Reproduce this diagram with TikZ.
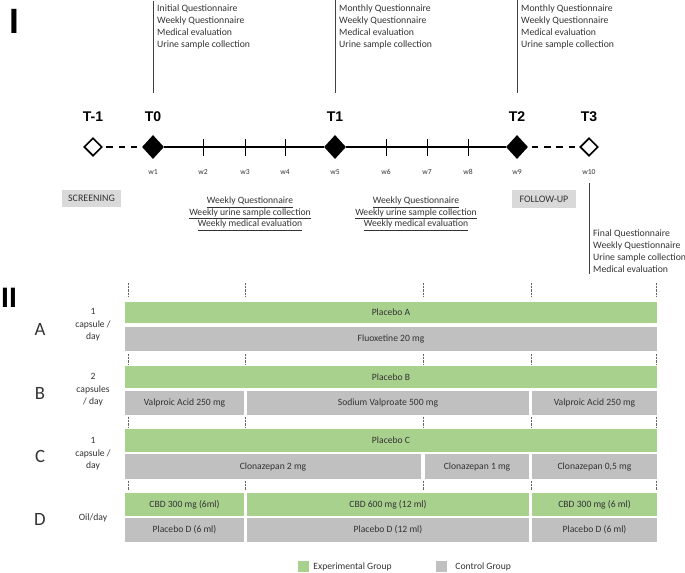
\documentclass[tikz,border=0pt]{standalone}
\usepackage{fontspec}
\setmainfont{Carlito}
\newfontfamily\headfont{Liberation Sans}
\usetikzlibrary{shapes.geometric,positioning}
\definecolor{expgreen}{HTML}{A9D18E}
\definecolor{ctrlgray}{HTML}{C0C0C0}
\definecolor{boxgray}{HTML}{D9D9D9}
\definecolor{txtgray}{HTML}{333333}
% name, style, x1, x2, y1, y2, text
\newcommand{\dosebar}[7]{%
  \node[#2, minimum width={(#4-#3)*0.03cm}, minimum height={(#6-#5)*0.03cm}]
    (#1) at ({(#3+#4)/2},{(#5+#6)/2}) {#7};}

\begin{document}
\begin{tikzpicture}[x=0.03cm, y=-0.03cm,
    fulld/.style={diamond, fill=black, inner sep=0pt, minimum width=0.66cm, minimum height=0.72cm},
    opend/.style={diamond, draw=black, line width=1.4pt, fill=white, inner sep=0pt, minimum width=0.54cm, minimum height=0.54cm},
    tline/.style={line width=1.6pt},
    tick/.style={line width=0.6pt},
    vline/.style={draw=black!75, line width=0.7pt},
    tlab/.style={font=\headfont\bfseries\fontsize{12}{12}\selectfont},
    wlab/.style={font=\fontsize{6.5}{6.5}\selectfont, text=txtgray},
    note/.style={align=left, inner sep=0pt, text=txtgray, font=\fontsize{8.3}{10}\selectfont},
    weekly/.style={align=center, inner sep=0pt, text=txtgray, font=\fontsize{8.2}{9.8}\selectfont},
    phase/.style={fill=boxgray, text=txtgray, inner sep=0pt, font=\fontsize{8.5}{8.5}\selectfont},
    grnbar/.style={fill=expgreen, inner sep=0pt, text=txtgray, font=\fontsize{8.2}{9}\selectfont},
    grybar/.style={fill=ctrlgray, inner sep=0pt, text=txtgray, font=\fontsize{8.2}{9}\selectfont},
    grp/.style={text=txtgray, font=\fontsize{16}{16}\selectfont},
    dose/.style={align=center, inner sep=0pt, text=txtgray, font=\fontsize{8.2}{10.6}\selectfont},
    weekmark/.style={draw=black!60, line width=0.4pt, dash pattern=on 0.6pt off 0.6pt},
    legtxt/.style={text=txtgray, inner sep=0pt, font=\fontsize{8.2}{8.2}\selectfont}]
\useasboundingbox (0,0) rectangle (685,573);

% ---- I : timeline
\node[font=\headfont\bfseries\fontsize{30}{30}\selectfont] (partI) at (14,21) {I};
\node[opend] (Tm1) at (93,147) {};
\node[fulld] (T0) at (153,147) {};
\node[fulld] (T1) at (335,147) {};
\node[fulld] (T2) at (517,147) {};
\node[opend] (T3) at (589,147) {};
\draw[tline] (T0) -- (T1) -- (T2);
\draw[tline, dash pattern=on 5.5pt off 5pt, dash phase=-3pt] (Tm1) -- (T0);
\draw[tline, dash pattern=on 5.5pt off 5pt, dash phase=-3pt] (T2) -- (T3);

\node[tlab] (lTm1) at (93,117) {T-1};
\node[tlab] (lT0) at (153,117) {T0};
\node[tlab] (lT1) at (335,117) {T1};
\node[tlab] (lT2) at (517,117) {T2};
\node[tlab] (lT3) at (589,117) {T3};

\foreach \x/\n in {153/1,203/2,245/3,285/4,335/5,386/6,427/7,468/8,517/9,589/10}
  \node[wlab] (w\n) at (\x,172) {w\n};
\foreach \n in {2,3,4,6,7,8}
  \draw[tick] (w\n |- 0,139) -- (w\n |- 0,156);

% visits
\draw[vline] (T0 |- 0,1) -- (T0 |- 0,93);
\node[note, anchor=north west] (q0) at (157,5) {Initial Questionnaire\\Weekly Questionnaire\\Medical evaluation\\Urine sample collection};
\draw[vline] (T1 |- 0,0) -- (T1 |- 0,93);
\node[note, anchor=north west] (q1) at (339,5) {Monthly Questionnaire\\Weekly Questionnaire\\Medical evaluation\\Urine sample collection};
\draw[vline] (T2 |- 0,0) -- (T2 |- 0,93);
\node[note, anchor=north west] (q2) at (521,5) {Monthly Questionnaire\\Weekly Questionnaire\\Medical evaluation\\Urine sample collection};
\draw[vline] (T3 |- 0,183) -- (T3 |- 0,274);
\node[note, anchor=north west] (q3) at (593,230) {Final Questionnaire\\Weekly Questionnaire\\Urine sample collection\\Medical evaluation};

\node[phase, minimum width=1.77cm, minimum height=0.51cm] (scr) at (91.5,198.5) {SCREENING};
\node[phase, minimum width=1.92cm, minimum height=0.54cm] (fol) at (544,199) {FOLLOW-UP};
\node[weekly] (wk1) at (250,214) {\underline{Weekly Questionnaire}\\\underline{Weekly urine sample collection}\\\underline{Weekly medical evaluation}};
\node[weekly] (wk2) at (416,214) {\underline{Weekly Questionnaire}\\\underline{Weekly urine sample collection}\\\underline{Weekly medical evaluation}};

% ---- II : treatment arms
\node[font=\headfont\bfseries\fontsize{24}{24}\selectfont] (partII) at (9,298) {II};
\foreach \ya/\yb in {283/297,354/364,417/427,481/490}
  \foreach \x in {128,245,423,531,656}
    \draw[weekmark] (\x,\ya) -- (\x,\yb);

\node[grp] (gA) at (40,329) {A};
\node[dose] (dA) at (93,325) {1\\capsule /\\day};
\dosebar{pA}{grnbar}{125}{657}{302}{323}{Placebo A}
\dosebar{fA}{grybar}{125}{657}{327}{351}{Fluoxetine 20 mg}

\node[grp] (gB) at (40,393) {B};
\node[dose] (dB) at (93,390) {2\\capsules\\/ day};
\dosebar{pB}{grnbar}{125}{657}{366}{388}{Placebo B}
\dosebar{vB1}{grybar}{125}{244}{391}{415}{Valproic Acid 250 mg}
\dosebar{vB2}{grybar}{247}{529}{391}{415}{Sodium Valproate 500 mg}
\dosebar{vB3}{grybar}{532}{657}{391}{415}{Valproic Acid 250 mg}

\node[grp] (gC) at (40,456) {C};
\node[dose] (dC) at (93,454) {1\\capsule /\\day};
\dosebar{pC}{grnbar}{125}{657}{429}{452}{Placebo C}
\dosebar{cC1}{grybar}{125}{421}{454}{479}{Clonazepan 2 mg}
\dosebar{cC2}{grybar}{425}{529}{454}{479}{Clonazepan 1 mg}
\dosebar{cC3}{grybar}{532}{657}{454}{479}{Clonazepan 0,5 mg}

\node[grp] (gD) at (40,519) {D};
\node[dose] (dD) at (93,518) {Oil/day};
\dosebar{cD1}{grnbar}{125}{244}{493}{516}{CBD 300 mg (6ml)}
\dosebar{cD2}{grnbar}{247}{529}{493}{516}{CBD 600 mg (12 ml)}
\dosebar{cD3}{grnbar}{532}{657}{493}{516}{CBD 300 mg (6 ml)}
\dosebar{pD1}{grybar}{125}{244}{518}{542}{Placebo D (6 ml)}
\dosebar{pD2}{grybar}{247}{529}{518}{542}{Placebo D (12 ml)}
\dosebar{pD3}{grybar}{532}{657}{518}{542}{Placebo D (6 ml)}

% legend
\node[fill=expgreen, minimum size=0.33cm, inner sep=0pt] (legE) at (303.5,566.5) {};
\node[legtxt, right=0.12cm of legE] (legEt) {Experimental Group};
\node[fill=ctrlgray, minimum size=0.33cm, inner sep=0pt] (legC) at (441.5,566.5) {};
\node[legtxt, right=0.24cm of legC] (legCt) {Control Group};
\end{tikzpicture}
\end{document}
